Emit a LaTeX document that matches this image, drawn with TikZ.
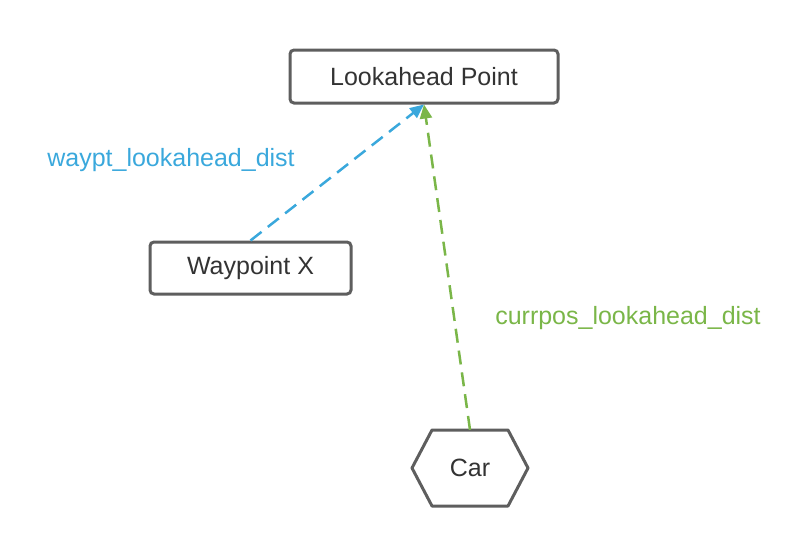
\documentclass[tikz,border=0pt]{standalone}
\usepackage{fontspec}
\setmainfont{Liberation Sans}
\usetikzlibrary{arrows.meta}
\definecolor{bordergrey}{HTML}{5E5E5E}
\definecolor{textgrey}{HTML}{333333}
\definecolor{lblue}{HTML}{3AA8DC}
\definecolor{lgreen}{HTML}{7AB648}
\begin{document}
\begin{tikzpicture}[x=1pt,y=-1pt,
  box/.style={draw=bordergrey,line width=3pt,rounded corners=4pt,text=textgrey,font=\fontsize{25}{28}\selectfont,inner sep=0pt},
  conn/.style={line width=2.5pt,dash pattern=on 14pt off 8pt,-{Triangle[length=14pt,width=12pt]}},
  lbl/.style={font=\fontsize{25}{28}\selectfont}]
\useasboundingbox (0,0) rectangle (799,558);
\node[box,minimum width=268pt,minimum height=53pt] (look) at (424,76.5) {Lookahead Point};
\node[box,minimum width=201pt,minimum height=52pt] (wp) at (250.5,268) {Waypoint X};
\node[inner sep=0pt,minimum width=76pt,minimum height=76pt,text=textgrey,font=\fontsize{25}{28}\selectfont] (car) at (470,468) {Car};
\draw[bordergrey,line width=3pt,line join=round] (432,430) -- (508,430) -- (528,468) -- (508,506) -- (432,506) -- (412,468) -- cycle;
\draw[conn,lblue] (wp.north) -- (look.south);
\draw[conn,lgreen] (car.north) -- (look.south);
\node[lbl,text=lblue] (l1) at (171,160) {waypt\_lookahead\_dist};
\node[lbl,text=lgreen] (l2) at (628,318) {currpos\_lookahead\_dist};
\end{tikzpicture}
\end{document}
